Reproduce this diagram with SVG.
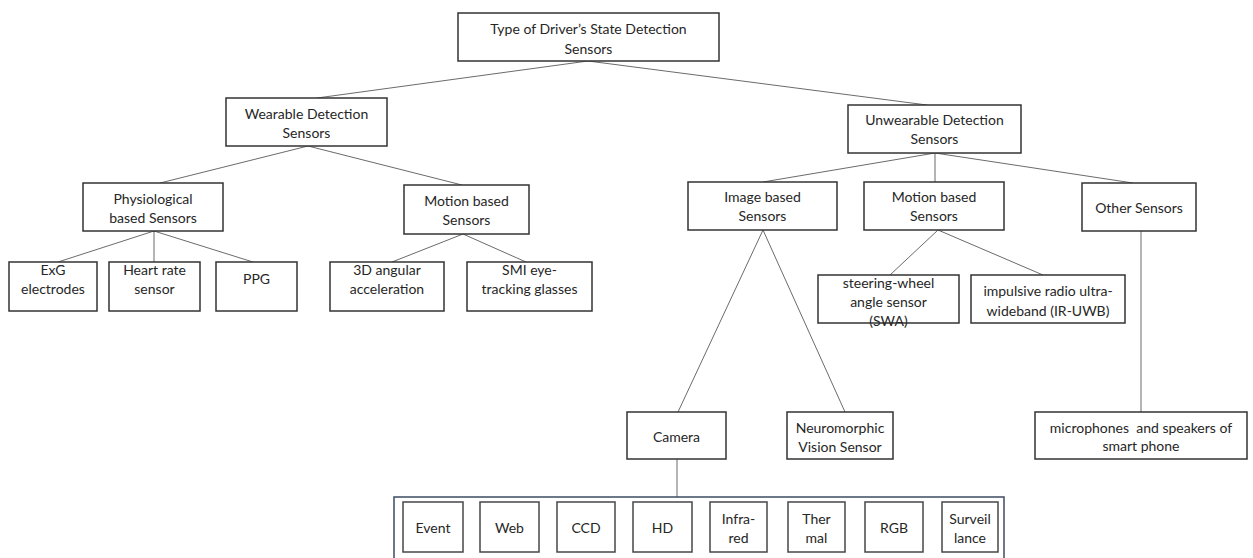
<svg xmlns="http://www.w3.org/2000/svg" width="1253" height="558" viewBox="0 0 1253 558">
<style>
  .bg { fill: #ffffff; }
  .box { fill: #ffffff; stroke: #333333; stroke-width: 1.5; }
  .sbox { fill: #ffffff; stroke: #474747; stroke-width: 1.5; }
  .frame { fill: none; stroke: #3d4b60; stroke-width: 1.5; }
  .conn line { stroke: #6b6b6b; stroke-width: 1; }
  text { font-family: Lato, "Open Sans", "Liberation Sans", sans-serif; font-size: 14px; fill: #262626; text-anchor: middle; dominant-baseline: central; }
</style>
<rect class="bg" x="0" y="0" width="1253" height="558"/>

<g id="connectors" class="conn">
  <line x1="588" y1="61" x2="317" y2="98"/>
  <line x1="588" y1="61" x2="927" y2="105"/>
  <line x1="308" y1="146" x2="160" y2="183"/>
  <line x1="308" y1="146" x2="462" y2="185"/>
  <line x1="154" y1="231" x2="58" y2="262"/>
  <line x1="154" y1="231" x2="154" y2="262"/>
  <line x1="154" y1="231" x2="253" y2="262"/>
  <line x1="463" y1="234" x2="392" y2="262"/>
  <line x1="463" y1="234" x2="526" y2="262"/>
  <line x1="935" y1="153" x2="763" y2="182"/>
  <line x1="935" y1="153" x2="935" y2="182"/>
  <line x1="935" y1="153" x2="1133" y2="183"/>
  <line x1="763" y1="230" x2="678" y2="412"/>
  <line x1="763" y1="230" x2="845" y2="412"/>
  <line x1="938" y1="230" x2="890" y2="275"/>
  <line x1="938" y1="230" x2="1043" y2="275"/>
  <line x1="1141" y1="231" x2="1141" y2="412"/>
  <line x1="677" y1="459" x2="677" y2="497"/>
</g>

<g id="root">
  <rect class="box" x="458" y="13" width="261" height="48"/>
  <text x="588.5" y="28">Type of Driver’s State Detection</text>
  <text x="588.5" y="48">Sensors</text>
</g>
<g id="wearable">
  <rect class="box" x="226" y="98" width="161" height="48"/>
  <text x="306.5" y="113">Wearable Detection</text>
  <text x="306.5" y="132">Sensors</text>
</g>
<g id="unwearable">
  <rect class="box" x="848" y="105" width="173" height="48"/>
  <text x="934.5" y="119.5">Unwearable Detection</text>
  <text x="934.5" y="138.5">Sensors</text>
</g>
<g id="physiological">
  <rect class="box" x="83" y="183" width="140" height="48"/>
  <text x="153" y="198">Physiological</text>
  <text x="153" y="217">based Sensors</text>
</g>
<g id="motion-wearable">
  <rect class="box" x="404" y="185" width="125" height="49"/>
  <text x="466.5" y="200">Motion based</text>
  <text x="466.5" y="219">Sensors</text>
</g>
<g id="image-based">
  <rect class="box" x="688" y="182" width="149" height="48"/>
  <text x="762.5" y="196.5">Image based</text>
  <text x="762.5" y="215.5">Sensors</text>
</g>
<g id="motion-unwearable">
  <rect class="box" x="864" y="182" width="140" height="48"/>
  <text x="934" y="196.5">Motion based</text>
  <text x="934" y="215.5">Sensors</text>
</g>
<g id="other">
  <rect class="box" x="1082" y="183" width="114" height="48"/>
  <text x="1139" y="207">Other Sensors</text>
</g>

<g id="exg">
  <rect class="box" x="9" y="262" width="88" height="49"/>
  <text x="53" y="269">ExG</text>
  <text x="53" y="288">electrodes</text>
</g>
<g id="heart-rate">
  <rect class="box" x="109" y="262" width="91" height="49"/>
  <text x="154.5" y="269">Heart rate</text>
  <text x="154.5" y="288">sensor</text>
</g>
<g id="ppg">
  <rect class="box" x="216" y="262" width="81" height="49"/>
  <text x="256.5" y="278">PPG</text>
</g>
<g id="angular">
  <rect class="box" x="330" y="262" width="114" height="49"/>
  <text x="387" y="269">3D angular</text>
  <text x="387" y="288">acceleration</text>
</g>
<g id="smi">
  <rect class="box" x="467" y="262" width="125" height="49"/>
  <text x="529.5" y="269">SMI eye-</text>
  <text x="529.5" y="288">tracking glasses</text>
</g>

<g id="swa">
  <rect class="box" x="818" y="275" width="141" height="48"/>
  <text x="888.5" y="282">steering-wheel</text>
  <text x="888.5" y="301">angle sensor</text>
  <text x="888.5" y="320">(SWA)</text>
</g>
<g id="ir-uwb">
  <rect class="box" x="971" y="275" width="154" height="48"/>
  <text x="1048" y="290">impulsive radio ultra-</text>
  <text x="1048" y="310">wideband (IR-UWB)</text>
</g>

<g id="camera">
  <rect class="box" x="627" y="412" width="99" height="47"/>
  <text x="676.5" y="436">Camera</text>
</g>
<g id="neuromorphic">
  <rect class="box" x="787" y="412" width="106" height="47"/>
  <text x="840" y="427">Neuromorphic</text>
  <text x="840" y="446">Vision Sensor</text>
</g>
<g id="microphones">
  <rect class="box" x="1035" y="412" width="212" height="47"/>
  <text x="1141" y="427">microphones&#160; and speakers of</text>
  <text x="1141" y="445">smart phone</text>
</g>

<g id="camera-types">
  <rect class="frame" x="394" y="497" width="610" height="70"/>
  <g id="event"><rect class="sbox" x="403" y="502" width="60" height="50"/><text x="433" y="527">Event</text></g>
  <g id="web"><rect class="sbox" x="480" y="502" width="59" height="50"/><text x="509.5" y="527">Web</text></g>
  <g id="ccd"><rect class="sbox" x="557" y="502" width="58" height="50"/><text x="586" y="527">CCD</text></g>
  <g id="hd"><rect class="sbox" x="633" y="502" width="59" height="50"/><text x="662.5" y="527">HD</text></g>
  <g id="infrared"><rect class="sbox" x="710" y="502" width="57" height="50"/><text x="738.5" y="518">Infra-</text><text x="738.5" y="537">red</text></g>
  <g id="thermal"><rect class="sbox" x="788" y="502" width="57" height="50"/><text x="816.5" y="518">Ther</text><text x="816.5" y="537">mal</text></g>
  <g id="rgb"><rect class="sbox" x="865" y="502" width="58" height="50"/><text x="894" y="527">RGB</text></g>
  <g id="surveillance"><rect class="sbox" x="942" y="502" width="56" height="50"/><text x="970" y="518">Surveil</text><text x="970" y="537">lance</text></g>
</g>
</svg>
